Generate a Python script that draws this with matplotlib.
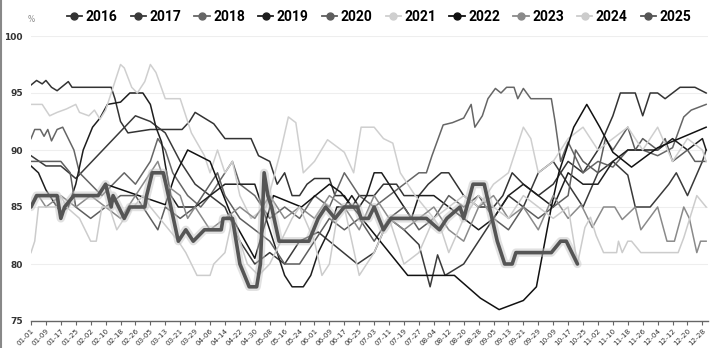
import matplotlib
matplotlib.use("Agg")
import matplotlib.pyplot as plt
import matplotlib.patheffects as pe
from matplotlib.lines import Line2D
import pandas as pd

# ---------------- data ----------------
all_days = pd.date_range("2024-01-01", "2024-12-31", freq="D").strftime("%m-%d").tolist()
skipped_days = ["10-01", "10-02"]
categories = [d for d in all_days if d not in skipped_days]

years = ["2016", "2017", "2018", "2019", "2020", "2021", "2022", "2023", "2024", "2025"]

s2016 = [("01-01", 95.7), ("01-04", 96.1), ("01-07", 95.8), ("01-09", 96.1), ("01-12", 95.5), ("01-15", 95.2),
         ("01-18", 95.6), ("01-21", 96.0), ("01-23", 95.5), ("02-13", 95.5), ("02-15", 94.5), ("02-18", 92.5),
         ("02-22", 91.5), ("03-05", 91.8), ("03-22", 91.8), ("03-26", 92.5), ("03-29", 93.3), ("04-03", 92.8),
         ("04-08", 92.3), ("04-14", 91.0), ("04-28", 91.0), ("05-02", 89.5), ("05-08", 89.0), ("05-12", 87.0),
         ("05-16", 88.0), ("05-20", 86.0), ("05-24", 86.0), ("05-28", 87.0), ("06-01", 87.5), ("06-09", 87.5),
         ("06-12", 86.0), ("06-17", 86.0), ("06-21", 85.0), ("06-25", 86.0), ("07-03", 86.0), ("07-08", 87.0),
         ("07-15", 87.0), ("07-19", 86.0), ("07-27", 86.0), ("08-01", 87.0), ("08-08", 88.0), ("08-12", 88.0),
         ("08-16", 87.0), ("08-20", 86.0), ("08-28", 85.0), ("09-05", 85.0), ("09-10", 86.0), ("09-15", 88.0),
         ("09-21", 87.0), ("09-29", 86.0), ("10-09", 87.0), ("10-17", 89.0), ("10-25", 88.0), ("11-02", 90.0),
         ("11-10", 93.0), ("11-14", 95.0), ("11-22", 95.0), ("11-26", 93.0), ("11-30", 95.0), ("12-04", 95.0),
         ("12-08", 94.5), ("12-12", 95.0), ("12-16", 95.5), ("12-24", 95.5), ("12-30", 95.0)]

s2017 = [("01-01", 89.5), ("01-09", 88.6), ("01-17", 88.6), ("01-25", 87.5), ("02-26", 93.0), ("03-05", 92.5),
         ("03-13", 91.5), ("03-21", 89.0), ("03-29", 87.0), ("04-06", 86.0), ("04-14", 85.0), ("04-22", 82.0),
         ("04-30", 80.0), ("05-08", 81.0), ("05-16", 80.0), ("05-24", 82.0), ("06-03", 82.8), ("06-24", 80.0),
         ("07-03", 81.0), ("07-11", 84.0), ("07-19", 83.0), ("07-27", 81.7), ("08-02", 78.0), ("08-06", 80.8),
         ("08-10", 79.0), ("08-20", 80.0), ("08-28", 82.0), ("09-05", 84.0), ("09-13", 86.0), ("09-21", 85.0),
         ("09-29", 88.0), ("10-09", 89.0), ("10-17", 87.0), ("10-25", 85.0), ("11-02", 88.0), ("11-10", 89.0),
         ("11-18", 87.8), ("11-22", 85.0), ("11-30", 85.0), ("12-10", 87.0), ("12-14", 88.0), ("12-20", 86.0),
         ("12-28", 89.0), ("12-30", 90.0)]

s2018 = [("01-01", 91.0), ("01-03", 91.8), ("01-06", 91.8), ("01-08", 91.2), ("01-10", 91.8), ("01-12", 90.8),
         ("01-15", 91.8), ("01-18", 92.0), ("01-21", 91.0), ("01-24", 90.0), ("01-27", 88.0), ("02-02", 87.0),
         ("02-08", 86.0), ("02-14", 87.0), ("02-20", 88.0), ("02-26", 87.0), ("03-05", 89.0), ("03-09", 91.0),
         ("03-13", 90.0), ("03-17", 88.0), ("03-25", 86.0), ("04-01", 85.0), ("04-06", 86.0), ("04-14", 88.0),
         ("04-18", 89.0), ("04-22", 87.0), ("04-30", 86.0), ("05-08", 84.0), ("05-16", 85.0), ("05-24", 84.0),
         ("06-01", 86.0), ("06-09", 85.0), ("06-17", 88.0), ("06-25", 86.0), ("07-03", 85.0), ("07-11", 86.0),
         ("07-19", 87.0), ("07-27", 88.0), ("07-31", 88.0), ("08-03", 89.5), ("08-09", 92.2), ("08-14", 92.4),
         ("08-20", 92.8), ("08-24", 94.0), ("08-26", 92.0), ("08-30", 93.0), ("09-02", 94.5), ("09-06", 95.4),
         ("09-09", 95.0), ("09-12", 95.5), ("09-16", 95.5), ("09-18", 94.5), ("09-21", 95.4), ("09-25", 94.5),
         ("10-08", 94.5), ("10-10", 92.5), ("10-13", 89.0), ("10-17", 90.7), ("10-25", 88.0), ("11-02", 89.0),
         ("11-10", 88.5), ("11-18", 90.0), ("11-26", 90.0), ("12-04", 89.5), ("12-12", 90.2), ("12-18", 92.9),
         ("12-22", 93.5), ("12-30", 94.0)]

s2019 = [("01-01", 88.6), ("01-05", 88.0), ("01-09", 86.5), ("01-13", 85.5), ("01-17", 84.5), ("01-21", 85.0),
         ("01-25", 87.0), ("01-29", 90.0), ("02-03", 92.0), ("02-07", 92.8), ("02-11", 94.0), ("02-18", 94.2),
         ("02-23", 95.0), ("03-01", 95.0), ("03-05", 94.0), ("03-08", 92.0), ("03-11", 90.7), ("03-13", 88.7),
         ("03-16", 86.0), ("03-20", 85.0), ("03-29", 85.0), ("04-06", 86.0), ("04-14", 87.0), ("04-30", 87.0),
         ("05-04", 85.0), ("05-08", 83.0), ("05-12", 81.0), ("05-16", 79.0), ("05-20", 78.0), ("05-26", 78.0),
         ("05-30", 79.0), ("06-03", 81.0), ("06-09", 83.0), ("06-13", 85.0), ("06-17", 85.0), ("06-21", 86.0),
         ("06-25", 85.0), ("06-29", 86.0), ("07-03", 88.0), ("07-07", 88.0), ("07-11", 87.0), ("07-19", 85.0),
         ("07-23", 84.0), ("07-27", 86.0), ("08-04", 86.0), ("08-12", 85.0), ("08-20", 84.0), ("08-28", 83.0),
         ("09-05", 84.0), ("09-13", 86.0), ("09-21", 87.0), ("09-29", 86.0), ("10-09", 85.0), ("10-17", 88.0),
         ("10-25", 87.0), ("11-02", 87.0), ("11-10", 89.0), ("11-18", 90.0), ("12-04", 90.0), ("12-12", 91.0),
         ("12-20", 90.0), ("12-28", 91.0), ("12-30", 90.0)]

s2020 = [("01-01", 89.0), ("01-17", 89.0), ("01-22", 88.0), ("01-25", 85.0), ("02-02", 84.0), ("02-10", 85.0),
         ("02-18", 86.0), ("02-26", 86.0), ("03-05", 84.0), ("03-09", 83.0), ("03-13", 85.0), ("03-21", 84.0),
         ("03-29", 85.0), ("04-06", 87.0), ("04-10", 88.0), ("04-14", 86.0), ("04-22", 84.0), ("04-30", 83.0),
         ("05-08", 82.0), ("05-16", 80.0), ("05-24", 80.0), ("06-01", 82.0), ("06-09", 84.0), ("06-17", 83.0),
         ("06-25", 84.0), ("07-03", 82.0), ("07-11", 84.0), ("07-19", 85.0), ("07-27", 83.0), ("08-04", 84.0),
         ("08-12", 86.0), ("08-20", 85.0), ("08-28", 86.0), ("09-05", 84.0), ("09-13", 83.0), ("09-21", 85.0),
         ("09-29", 84.0), ("10-09", 85.0), ("10-17", 86.0), ("10-21", 90.0), ("10-25", 89.0), ("11-02", 88.0),
         ("11-06", 91.0), ("11-10", 90.0), ("11-18", 92.0), ("11-22", 90.0), ("11-26", 91.0), ("12-04", 90.0),
         ("12-08", 91.0), ("12-12", 89.0), ("12-20", 90.0), ("12-24", 89.0), ("12-30", 89.0)]

s2021 = [("01-01", 94.0), ("01-07", 94.0), ("01-11", 93.0), ("01-15", 93.3), ("01-20", 93.6), ("01-25", 94.0),
         ("01-27", 93.3), ("02-01", 93.0), ("02-04", 93.5), ("02-07", 92.7), ("02-10", 93.5), ("02-14", 95.5),
         ("02-18", 97.5), ("02-20", 97.2), ("02-24", 95.5), ("02-27", 95.0), ("03-02", 96.0), ("03-05", 97.5),
         ("03-08", 96.8), ("03-13", 94.5), ("03-21", 94.5), ("03-27", 91.5), ("04-03", 89.5), ("04-06", 88.0),
         ("04-10", 90.0), ("04-14", 88.0), ("04-18", 89.0), ("04-22", 86.0), ("04-28", 84.0), ("05-06", 85.0),
         ("05-14", 90.0), ("05-18", 92.9), ("05-22", 92.4), ("05-26", 88.0), ("06-01", 89.0), ("06-08", 90.9),
         ("06-17", 89.8), ("06-22", 88.0), ("06-26", 92.0), ("07-03", 92.0), ("07-08", 91.0), ("07-13", 90.6),
         ("07-17", 88.0), ("07-25", 86.0), ("08-04", 84.0), ("08-12", 85.0), ("08-20", 86.0), ("08-28", 85.0),
         ("09-05", 87.0), ("09-13", 88.0), ("09-21", 92.0), ("09-25", 91.0), ("09-29", 88.0), ("10-09", 89.0),
         ("10-17", 91.0), ("10-25", 92.0), ("11-02", 90.0), ("11-10", 91.0), ("11-18", 92.0), ("11-26", 90.0),
         ("12-04", 92.0), ("12-12", 89.0), ("12-20", 91.0), ("12-28", 90.0), ("12-30", 89.0)]

s2022 = [("02-10", 87.0), ("03-13", 85.2), ("03-18", 87.7), ("03-25", 90.0), ("04-06", 89.0), ("04-18", 84.0),
         ("04-30", 80.5), ("05-10", 86.0), ("05-25", 85.0), ("06-09", 87.0), ("06-15", 86.3), ("07-21", 79.0),
         ("08-15", 79.0), ("08-29", 77.0), ("09-08", 76.0), ("09-21", 76.8), ("09-28", 78.0), ("10-08", 85.0),
         ("10-12", 88.0), ("10-20", 92.0), ("10-27", 94.0), ("11-03", 92.0), ("11-10", 89.8), ("11-20", 88.5),
         ("12-04", 90.2), ("12-30", 92.0)]

s2023 = [("01-01", 85.0), ("01-05", 86.0), ("01-09", 85.0), ("01-17", 86.0), ("01-25", 85.0), ("02-02", 86.0),
         ("02-10", 85.0), ("02-18", 84.0), ("02-26", 86.0), ("03-05", 88.0), ("03-09", 89.0), ("03-13", 87.0),
         ("03-21", 86.0), ("03-25", 84.0), ("03-29", 85.0), ("04-06", 83.0), ("04-14", 84.0), ("04-22", 85.0),
         ("04-30", 84.0), ("05-08", 86.0), ("05-16", 84.0), ("05-24", 85.0), ("06-01", 84.0), ("06-09", 86.0),
         ("06-17", 85.0), ("06-25", 83.0), ("07-03", 86.0), ("07-11", 84.0), ("07-19", 83.0), ("07-27", 84.0),
         ("08-04", 85.0), ("08-12", 83.0), ("08-20", 82.0), ("08-28", 85.0), ("09-05", 86.0), ("09-13", 84.0),
         ("09-21", 85.0), ("09-29", 83.0), ("10-09", 86.0), ("10-17", 84.0), ("10-24", 85.2), ("10-30", 83.2),
         ("11-05", 85.0), ("11-11", 85.0), ("11-15", 83.9), ("11-22", 85.0), ("11-25", 83.0), ("12-04", 85.0),
         ("12-09", 82.0), ("12-13", 82.0), ("12-18", 85.0), ("12-21", 84.0), ("12-25", 81.0), ("12-27", 82.0),
         ("12-30", 82.0)]

s2024 = [("01-01", 81.0), ("01-03", 82.0), ("01-05", 85.0), ("01-15", 85.0), ("01-17", 86.0), ("01-20", 85.0),
         ("01-27", 84.0), ("02-02", 82.0), ("02-05", 82.0), ("02-08", 85.0), ("02-12", 85.0), ("02-16", 83.0),
         ("02-20", 84.0), ("02-25", 85.0), ("03-01", 86.0), ("03-05", 85.0), ("03-10", 84.0), ("03-15", 83.0),
         ("03-20", 82.0), ("03-24", 81.0), ("03-30", 79.0), ("04-06", 79.0), ("04-08", 80.0), ("04-14", 81.0),
         ("04-18", 84.0), ("04-22", 82.0), ("04-26", 80.0), ("05-02", 79.0), ("05-08", 80.0), ("05-14", 82.0),
         ("05-20", 84.0), ("05-24", 85.0), ("06-01", 82.0), ("06-05", 79.0), ("06-09", 80.0), ("06-13", 84.0),
         ("06-17", 85.0), ("06-21", 82.0), ("06-25", 79.0), ("07-03", 81.0), ("07-11", 84.0), ("07-15", 82.0),
         ("07-19", 80.0), ("07-27", 81.0), ("08-04", 84.0), ("08-08", 83.0), ("08-12", 81.0), ("08-20", 84.0),
         ("08-28", 86.0), ("09-05", 85.0), ("09-13", 84.0), ("09-21", 86.0), ("09-29", 85.0), ("10-09", 84.0),
         ("10-17", 85.0), ("10-22", 80.0), ("10-26", 83.2), ("10-29", 84.1), ("11-01", 82.5), ("11-05", 81.0),
         ("11-12", 81.0), ("11-13", 82.0), ("11-15", 81.0), ("11-18", 82.0), ("11-20", 82.0), ("11-25", 81.0),
         ("12-15", 81.0), ("12-18", 82.3), ("12-25", 86.0), ("12-30", 85.0)]

s2025 = [("01-01", 85.0), ("01-04", 86.0), ("01-15", 86.0), ("01-17", 84.0), ("01-19", 85.0), ("01-24", 86.0),
         ("02-06", 86.0), ("02-10", 87.0), ("02-13", 85.0), ("02-14", 86.0), ("02-20", 84.0), ("02-23", 85.0),
         ("03-02", 85.0), ("03-03", 86.0), ("03-06", 88.0), ("03-12", 88.0), ("03-16", 85.0), ("03-20", 82.0),
         ("03-24", 83.0), ("03-28", 82.0), ("04-03", 83.0), ("04-12", 83.0), ("04-13", 84.0), ("04-18", 84.0),
         ("04-22", 80.0), ("04-27", 78.0), ("05-01", 78.0), ("05-03", 80.0), ("05-05", 88.0), ("05-07", 86.0),
         ("05-09", 85.0), ("05-13", 82.0), ("05-29", 82.0), ("06-03", 84.0), ("06-07", 85.0), ("06-12", 84.0),
         ("06-17", 85.0), ("06-24", 85.0), ("06-26", 84.0), ("06-30", 84.0), ("07-03", 85.0), ("07-08", 83.0),
         ("07-12", 84.0), ("07-31", 84.0), ("08-07", 83.0), ("08-11", 84.0), ("08-18", 85.0), ("08-20", 84.0),
         ("08-25", 87.0), ("08-31", 87.0), ("09-07", 82.0), ("09-11", 80.0), ("09-15", 80.0), ("09-17", 81.0),
         ("10-08", 81.0), ("10-13", 82.0), ("10-16", 82.0), ("10-22", 80.0)]

series = [s2016, s2017, s2018, s2019, s2020, s2021, s2022, s2023, s2024, s2025]
colors = ["#333333", "#3a3a3a", "#666666", "#1e1e1e", "#5e5e5e", "#cfcfcf", "#111111", "#8a8a8a", "#cccccc", "#555555"]

y_ticks = [75, 80, 85, 90, 95, 100]
x_tick_labels = categories[::8]

# ---------------- plot ----------------
plt.rcParams['font.family'] = ['DejaVu Sans']

fig = plt.figure(figsize=(7.16, 3.48), dpi=100)
ax = fig.add_axes([31 / 716, 27 / 348, 677 / 716, 285 / 348])

pos = {d: i for i, d in enumerate(categories)}
for yr, s, c in zip(years, series, colors):
    xs = [pos[d] for d, _ in s]
    vs = [v for _, v in s]
    if yr == "2025":
        ax.plot(xs, vs, color=c, lw=2.6, zorder=5, solid_joinstyle='round', solid_capstyle='round',
                path_effects=[pe.Stroke(linewidth=6.0, foreground='#c4c4c4', alpha=0.5), pe.Normal()])
    else:
        ax.plot(xs, vs, color=c, lw=1.1, zorder=3)

ax.set_xlim(0, len(categories) - 1)
ax.set_ylim(75, 100)
ax.set_yticks(y_ticks)
ax.set_yticklabels([str(t) for t in y_ticks], fontsize=6.5, color="#333333", fontweight="bold")
ax.set_xticks(list(range(0, len(categories), 8)))
ax.set_xticklabels(x_tick_labels, rotation=45, fontsize=5.2, color="#333333", ha="right",
                   rotation_mode="anchor")
ax.tick_params(axis='y', length=0, pad=6)
ax.tick_params(axis='x', length=3, color="#666666", pad=1.5)
ax.grid(axis='y', color="#eeeeee", lw=0.8)
ax.set_axisbelow(True)
for sp in ["top", "right", "left"]:
    ax.spines[sp].set_visible(False)
ax.spines["bottom"].set_color("#666666")
ax.spines["bottom"].set_linewidth(1.0)

fig.text(28 / 716, 1 - 19 / 348, "%", fontsize=5.5, color="#888888", va="center")

handles = [Line2D([0], [0], color=c, lw=1.3, marker='o', markersize=5) for c in colors]
leg = fig.legend(handles, years, loc="center", bbox_to_anchor=(379 / 716, 1 - 17 / 348), ncol=10,
                 frameon=False, handlelength=1.1, handletextpad=0.25, columnspacing=0.95,
                 prop={'family': ['Roboto', 'DejaVu Sans'], 'weight': 'bold', 'size': 10})

fig.add_artist(Line2D([0.0015, 0.0015], [0, 1], color="#888888", lw=1.5, transform=fig.transFigure))

fig.savefig("out.png", dpi=100)
